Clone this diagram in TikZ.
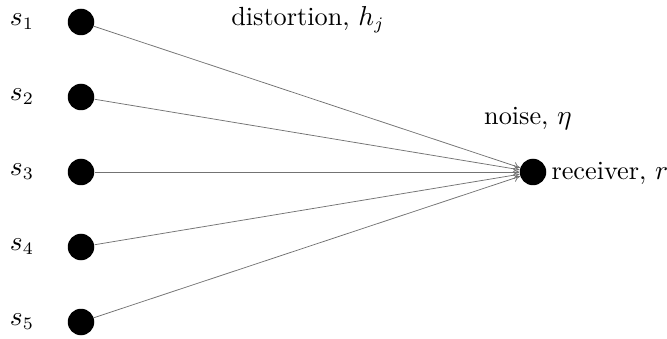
\documentclass[tikz,border=0pt]{standalone}
\usetikzlibrary{arrows.meta}
\begin{document}
\begin{tikzpicture}[x=0.4pt,y=-0.4pt,
  dot/.style={circle,fill=black,inner sep=0pt,minimum size=10.6pt},
  link/.style={draw=black!55,line width=0.3pt,-{To[length=2.5pt,width=3pt]}},
  lab/.style={inner sep=0pt,font=\fontsize{10.5}{12}\selectfont}]
\useasboundingbox (0,0) rectangle (667,339);
\foreach \i/\y in {1/22,2/97,3/172,4/247,5/322}{
  \node[dot] (s\i) at (81,\y) {};
  \node[lab] (l\i) at (22,\y) {$s_\i$};
}
\node[dot] (r) at (533,172) {};
\node[lab,anchor=west] (rl) at (551,173) {receiver, $r$};
\node[lab] (d) at (308,20) {distortion, $h_j$};
\node[lab] (n) at (528,119) {noise, $\eta$};
\foreach \i in {1,...,5}{
  \draw[link] (s\i) -- (r);
}
\end{tikzpicture}
\end{document}
